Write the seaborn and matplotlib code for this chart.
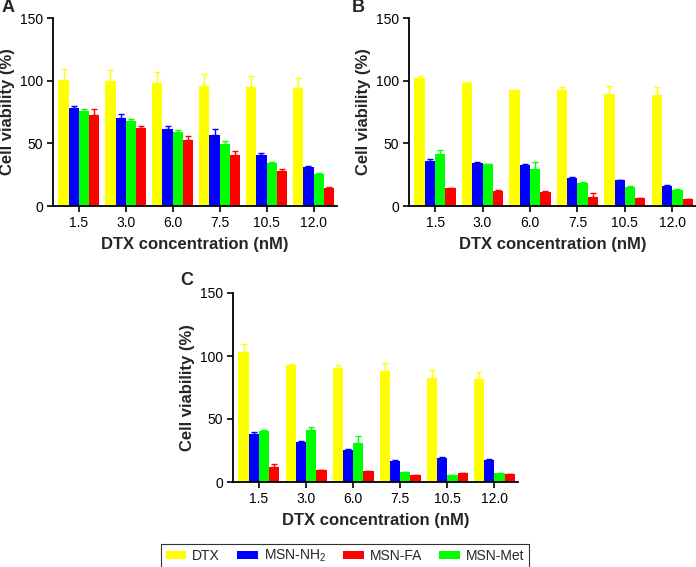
import matplotlib
matplotlib.use("Agg")
import matplotlib.pyplot as plt
from matplotlib.patches import Patch
import seaborn as sns
import pandas as pd
import numpy as np

concs = ["1.5", "3.0", "6.0", "7.5", "10.5", "12.0"]
groups = ["DTX", "MSN-NH2", "MSN-Met", "MSN-FA"]

# Panel A
a_dtx = [100.8, 99.5, 98.0, 96.0, 95.0, 94.0]
a_dtx_err = [8.8, 9.2, 8.6, 9.6, 8.4, 8.0]
a_nh2 = [78.2, 70.3, 61.8, 57.0, 40.6, 31.0]
a_nh2_err = [1.4, 3.4, 1.9, 4.8, 1.8, 0.6]
a_met = [75.6, 68.2, 58.9, 49.6, 34.5, 25.2]
a_met_err = [1.4, 1.6, 1.6, 2.1, 1.0, 0.8]
a_fa = [73.0, 62.3, 53.0, 40.6, 27.9, 14.6]
a_fa_err = [4.5, 1.9, 3.2, 3.2, 1.8, 0.5]

# Panel B
b_dtx = [102.0, 98.0, 92.4, 92.4, 89.7, 88.4]
b_dtx_err = [1.4, 0.7, 0.5, 2.3, 6.3, 6.6]
b_nh2 = [35.8, 34.5, 32.6, 22.6, 20.4, 16.0]
b_nh2_err = [1.9, 0.5, 0.6, 0.5, 0.3, 0.4]
b_met = [41.7, 33.2, 29.2, 18.6, 15.4, 12.7]
b_met_err = [2.6, 0.5, 5.8, 0.8, 0.6, 0.6]
b_fa = [14.0, 11.9, 11.1, 7.2, 6.1, 5.3]
b_fa_err = [0.6, 0.6, 0.8, 2.8, 0.3, 0.3]

# Panel C
c_dtx = [102.9, 93.0, 90.8, 88.1, 82.2, 81.4]
c_dtx_err = [6.9, 0.8, 2.2, 6.7, 6.7, 5.6]
c_nh2 = [38.0, 31.9, 25.4, 16.6, 19.3, 17.7]
c_nh2_err = [1.9, 0.5, 0.6, 0.5, 0.5, 0.5]
c_met = [40.2, 41.5, 31.3, 7.8, 5.6, 7.0]
c_met_err = [1.3, 2.4, 4.9, 0.5, 0.3, 0.3]
c_fa = [12.0, 9.4, 8.6, 5.4, 7.0, 6.2]
c_fa_err = [1.9, 0.5, 0.3, 0.3, 0.3, 0.3]

yticks = [0, 50, 100, 150]
colors = {"DTX": "#FFFF00", "MSN-NH2": "#0000FF", "MSN-Met": "#00FF00", "MSN-FA": "#FF0000"}
legend_order = ["DTX", "MSN-NH2", "MSN-FA", "MSN-Met"]
legend_labels = {"DTX": "DTX", "MSN-NH2": "MSN-NH$_2$", "MSN-FA": "MSN-FA", "MSN-Met": "MSN-Met"}

sns.set_theme(style="ticks")
plt.rcParams["font.family"] = ["Liberation Sans", "DejaVu Sans"]
plt.rcParams["mathtext.default"] = "regular"

fig = plt.figure(figsize=(6.96, 5.67), dpi=100)

W, H = 696.0, 567.0
def rect_px(x0, x1, ytop, ybot):
    return [x0 / W, 1 - ybot / H, (x1 - x0) / W, (ybot - ytop) / H]

panels = [
    ("A", rect_px(53, 337, 18, 206), (2, 8), (a_dtx, a_nh2, a_met, a_fa), (a_dtx_err, a_nh2_err, a_met_err, a_fa_err)),
    ("B", rect_px(409, 696, 18, 206), (352, 7), (b_dtx, b_nh2, b_met, b_fa), (b_dtx_err, b_nh2_err, b_met_err, b_fa_err)),
    ("C", rect_px(233, 518, 293, 482), (180, 281), (c_dtx, c_nh2, c_met, c_fa), (c_dtx_err, c_nh2_err, c_met_err, c_fa_err)),
]

for letter, rect, lpos, vals, errs in panels:
    ax = fig.add_axes(rect)
    rows = []
    for g, v, e in zip(groups, vals, errs):
        for c, vv, ee in zip(concs, v, e):
            rows.append({"conc": c, "group": g, "value": vv, "err": ee})
    df = pd.DataFrame(rows)
    sns.barplot(data=df, x="conc", y="value", hue="group", order=concs, hue_order=groups,
                palette=colors, width=0.87, gap=0, errorbar=None, saturation=1,
                linewidth=0, legend=False, ax=ax)
    for g, container in zip(groups, ax.containers):
        sub = df[df.group == g].set_index("conc").loc[concs]
        xs = [p.get_x() + p.get_width() / 2 for p in container.patches]
        hs = [p.get_height() for p in container.patches]
        ax.errorbar(xs, hs, yerr=[np.zeros(len(xs)), sub["err"].values], fmt="none",
                    ecolor=colors[g], elinewidth=1.0, capsize=2.5, capthick=1.0, zorder=3)
    ax.set_ylim(0, 150)
    ax.set_yticks(yticks)
    ax.set_xlim(-0.55, 5.5)
    sns.despine(ax=ax)
    for s in ("left", "bottom"):
        ax.spines[s].set_linewidth(1.3)
        ax.spines[s].set_color("black")
    ax.tick_params(axis="both", direction="out", length=4, width=1.2, colors="black", labelsize=10, pad=3)
    ax.set_xlabel("DTX concentration (nM)", fontsize=12, fontweight="bold", labelpad=5)
    ax.set_ylabel("Cell viability (%)", fontsize=12, fontweight="bold", labelpad=4)
    fig.text(lpos[0] / W, 1 - lpos[1] / H, letter, fontsize=13, fontweight="bold",
             ha="left", va="center")

handles = [Patch(facecolor=colors[k], edgecolor="none", label=legend_labels[k]) for k in legend_order]
leg = fig.legend(handles=handles, loc="center", bbox_to_anchor=(345 / W, 1 - 556 / H), ncol=4,
                 frameon=True, fancybox=False, edgecolor="black", fontsize=10,
                 handlelength=1.5, handleheight=0.45, columnspacing=1.25, handletextpad=0.4,
                 borderpad=0.3)
leg.get_frame().set_linewidth(0.8)

fig.savefig("out.png", dpi=100)
